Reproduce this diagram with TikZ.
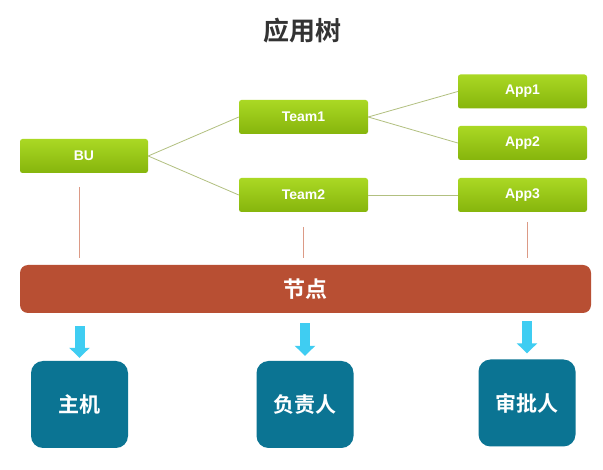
\documentclass[tikz,border=0pt]{standalone}
\usepackage{fontspec}
\setmainfont{Liberation Sans}
\newfontfamily\cjk{Noto Sans CJK SC}[BoldFont={Noto Sans CJK SC Bold}]
\usetikzlibrary{arrows.meta}
\definecolor{gtop}{HTML}{AAD824}
\definecolor{gbot}{HTML}{86B50C}
\definecolor{barred}{HTML}{B84F33}
\definecolor{teal}{HTML}{0B7493}
\definecolor{cyanarr}{HTML}{3FCDF2}
\definecolor{gline}{HTML}{B2C080}
\definecolor{rline}{HTML}{DC9A86}
\definecolor{titlegray}{HTML}{333333}
\tikzset{
  greenbox/.style={rectangle, rounded corners=2.5pt, top color=gtop, bottom color=gbot,
    draw=none, minimum width=128pt, minimum height=34pt, inner sep=0pt,
    text=white, font=\bfseries\fontsize{14}{16}\selectfont},
  barbox/.style={rectangle, rounded corners=8pt, fill=barred, draw=none,
    minimum width=571pt, minimum height=48pt, inner sep=0pt,
    text=white, font=\cjk\bfseries\fontsize{22}{25}\selectfont},
  tealbox/.style={rectangle, rounded corners=12pt, fill=teal, draw=none,
    minimum width=97pt, minimum height=87pt, inner sep=0pt,
    text=white, font=\cjk\bfseries\fontsize{21}{24}\selectfont},
  tree/.style={draw=gline, line width=0.8pt},
  drop/.style={draw=rline, line width=0.8pt},
  fat/.style={draw=cyanarr, line width=10pt, -{Triangle[width=20pt,length=10pt]}},
}
\begin{document}
\begin{tikzpicture}[x=1pt,y=-1pt]
\useasboundingbox[fill=white] (0,0) rectangle (603,470);
\node[text=titlegray, font=\cjk\bfseries\fontsize{26}{29}\selectfont] (title) at (302,31) {应用树};

\node[greenbox] (bu) at (84,156) {BU};
\node[greenbox, minimum width=129pt] (t1) at (303.5,117) {Team1};
\node[greenbox, minimum width=129pt] (t2) at (303.5,195) {Team2};
\node[greenbox, minimum width=129pt] (a1) at (522.5,91.5) {App1};
\node[greenbox, minimum width=129pt] (a2) at (522.5,143) {App2};
\node[greenbox, minimum width=129pt] (a3) at (522.5,195) {App3};

\draw[tree] (bu.east) -- (t1.west);
\draw[tree] (bu.east) -- (t2.west);
\draw[tree] (t1.east) -- (a1.west);
\draw[tree] (t1.east) -- (a2.west);
\draw[tree] (t2.east) -- (a3.west);

\node[barbox] (bar) at (305.5,289) {节点};

\coordinate (d1) at (79,187);
\coordinate (d2) at (303,227);
\coordinate (d3) at (527,222);
\draw[drop, shorten >=7pt] (d1) -- (d1 |- bar.north);
\draw[drop, shorten >=7pt] (d2) -- (d2 |- bar.north);
\draw[drop, shorten >=7pt] (d3) -- (d3 |- bar.north);

\node[tealbox] (host) at (79.5,404.5) {主机};
\node[tealbox] (owner) at (305,404.5) {负责人};
\node[tealbox] (appr) at (527,403) {审批人};

\draw[fat, shorten <=13pt, shorten >=3pt] (bar.south -| host.north) -- (host.north);
\draw[fat, shorten <=10pt, shorten >=5pt] (bar.south -| owner.north) -- (owner.north);
\draw[fat, shorten <=8pt, shorten >=6pt] (bar.south -| appr.north) -- (appr.north);
\end{tikzpicture}
\end{document}
